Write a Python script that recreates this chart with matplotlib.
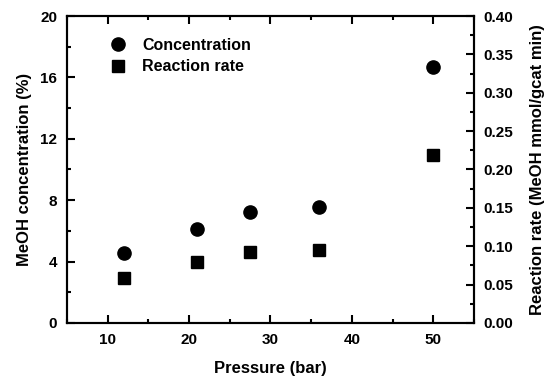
import matplotlib
matplotlib.use("Agg")
import matplotlib.pyplot as plt
from matplotlib.ticker import MultipleLocator

plt.rcParams['font.family'] = ['Liberation Sans', 'DejaVu Sans']
plt.rcParams['font.weight'] = 'bold'

pressure = [12, 21, 27.5, 36, 50]
concentration = [4.55, 6.1, 7.2, 7.55, 16.7]
rate = [0.059, 0.079, 0.092, 0.095, 0.219]

fig = plt.figure(figsize=(5.56, 3.83), dpi=100)
ax = fig.add_axes([0.1205, 0.1567, 0.732, 0.8015])
ax2 = ax.twinx()

h1, = ax.plot(pressure, concentration, 'o', color='black', ms=9.5, label='Concentration')
h2, = ax2.plot(pressure, rate, 's', color='black', ms=8, label='Reaction rate')

ax.set_xlim(5, 55)
ax.set_ylim(0, 20)
ax2.set_ylim(0, 0.40)
ax.xaxis.set_major_locator(MultipleLocator(10))
ax.xaxis.set_minor_locator(MultipleLocator(5))
ax.yaxis.set_major_locator(MultipleLocator(4))
ax.yaxis.set_minor_locator(MultipleLocator(2))
ax2.yaxis.set_major_locator(MultipleLocator(0.05))
ax2.yaxis.set_minor_locator(MultipleLocator(0.025))
ax2.yaxis.set_major_formatter(matplotlib.ticker.FormatStrFormatter('%.2f'))

for a in (ax, ax2):
    for s in a.spines.values():
        s.set_linewidth(1.5)
ax.tick_params(axis='x', which='both', direction='in', top=True, labelsize=11, width=1.5, pad=7)
ax.tick_params(axis='x', which='major', length=6)
ax.tick_params(axis='x', which='minor', length=3)
ax.tick_params(axis='y', which='both', direction='in', labelsize=11, width=1.5, pad=7)
ax.tick_params(axis='y', which='major', length=6)
ax.tick_params(axis='y', which='minor', length=3)
ax2.tick_params(axis='y', which='both', direction='in', labelsize=11, width=1.5, pad=7)
ax2.tick_params(axis='y', which='major', length=6)
ax2.tick_params(axis='y', which='minor', length=3)

ax.set_xlabel('Pressure (bar)', fontsize=12, fontweight='bold', labelpad=10)
ax.set_ylabel('MeOH concentration (%)', fontsize=12, fontweight='bold', labelpad=6)
ax2.set_ylabel('Reaction rate (MeOH mmol/gcat min)', fontsize=12, fontweight='bold', labelpad=12)

ax.legend(handles=[h1, h2], loc='upper left', bbox_to_anchor=(0.065, 0.97),
          frameon=False, fontsize=11.5, handletextpad=0.75, borderpad=0.3,
          labelspacing=0.4, handlelength=1.5)

fig.savefig('out.png', dpi=100)
